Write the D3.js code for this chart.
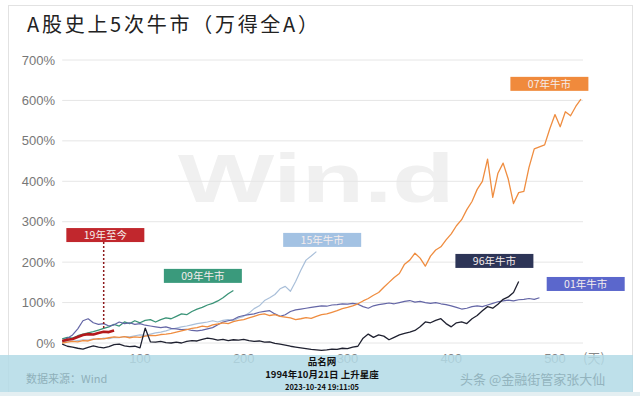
<!DOCTYPE html>
<html>
<head>
<meta charset="utf-8">
<script src="https://cdn.jsdelivr.net/npm/d3@7"></script>
<style>
  html, body { margin: 0; padding: 0; background: #fff; }
  svg { display: block; }
</style>
</head>
<body>
<svg id="chart" width="640" height="396"></svg>
<script>
// 数据 ------------------------------------------------------------
// 每条线从第25天开始, 每隔5天一个点 (单位: %)
const startDay = 25;
const stepDay = 5;

const bull07 = [0,2,4,3,6,5,9,11,10,13,15,14,16,13,15,14,17,19,18,21,
  22,24,27,30,33,36,38,42,40,45,47,50,48,53,56,58,62,66,70,72,
  68,70,66,64,62,58,60,63,61,66,70,72,76,80,85,88,92,97,104,110,
  118,125,138,150,162,172,195,205,222,210,190,215,230,238,255,270,290,305,330,350,
  380,400,455,360,420,445,405,345,372,375,435,480,485,490,530,565,535,572,562,585,603];

const bull01 = [5,12,20,35,55,60,50,46,48,42,45,52,48,50,46,48,44,42,40,38,
  40,36,35,33,34,31,30,32,35,38,45,52,55,58,65,68,70,72,76,78,
  80,72,66,70,78,82,84,86,88,90,92,91,94,95,97,96,98,96,90,86,
  92,95,97,99,97,100,103,105,101,103,100,98,100,97,95,92,88,84,86,90,
  92,90,94,98,102,104,106,104,107,108,110,108,112];

const bull96 = [-3,-8,-10,-13,-15,-11,-7,-10,-12,-9,-4,-3,-7,-9,-8,-12,37,3,2,4,
  1,0,2,0,4,6,5,9,12,10,7,9,6,8,7,9,6,4,5,2,
  3,-1,-3,-5,-8,-10,-12,-14,-16,-17,-18,-17,-15,-16,-13,-14,-10,-8,12,22,
  14,20,17,8,14,20,24,27,31,40,52,50,56,60,48,40,50,52,48,60,
  68,80,90,86,96,108,114,125,152];

const bull15 = [3,5,4,6,8,7,10,9,12,11,14,13,16,15,18,20,19,22,25,27,
  30,34,37,40,42,45,48,50,52,55,52,56,58,55,62,66,74,85,92,105,
  112,120,134,140,128,152,180,205,215,226];

const bull09 = [10,14,12,18,22,25,28,32,36,40,46,42,52,48,55,50,56,58,52,58,
  62,60,66,72,70,78,84,88,94,98,104,112,122,130];

const bull19 = [5,8,10,15,20,22,21,25,28,27,31];

const seriesNames = ["15年牛市", "09年牛市", "01年牛市", "07年牛市", "96年牛市", "19年至今"];
const seriesValues = [bull15, bull09, bull01, bull07, bull96, bull19];
const lineColors = ["#a9bfd9", "#3b9478", "#6466a6", "#ef8d40", "#1f2130", "#b3191c"];
const boxColors = ["#a3c2e3", "#3a9a7c", "#5b67cc", "#f08a3c", "#2d3557", "#c1272d"];
const lineWidths = [1.2, 1.3, 1.2, 1.3, 1.3, 2.6];
// 标签框左边 (天) 和中心 (%)
const boxDay = [238, 123, 492, 457, 404, 29];
const boxPct = [255, 166, 146, 641, 203, 267];

const yTicks = [0, 100, 200, 300, 400, 500, 600, 700];
const xTicks = [100, 200, 300, 400, 500];

const title = "A股史上5次牛市（万得全A）";

// 画图 ------------------------------------------------------------
const svg = d3.select("#chart");

const x = d3.scaleLinear().domain([0, 560]).range([36.25, 617.25]);
const y = d3.scaleLinear().domain([0, 700]).range([343, 60]);

// 外框
svg.append("rect")
  .attr("x", 8.5).attr("y", 5.5)
  .attr("width", 624).attr("height", 392)
  .attr("fill", "#fff")
  .attr("stroke", "#e2e2e2");

// 水印 Win.d
svg.append("text")
  .attr("transform", "translate(178,202) scale(1.5,1)")
  .attr("font-family", "Liberation Sans, Arial, sans-serif")
  .attr("font-weight", "bold")
  .attr("font-size", 68)
  .attr("fill", "#f0f0f0")
  .text("Win.d");

// 标题
svg.append("text")
  .attr("x", 27).attr("y", 32)
  .attr("font-family", "Noto Sans CJK SC, sans-serif")
  .attr("font-size", 20)
  .attr("textLength", 291)
  .attr("fill", "#222")
  .text(title);

// 网格线 + y轴
const grid = svg.append("g");
grid.selectAll("line")
  .data(yTicks)
  .join("line")
    .attr("x1", x(startDay)).attr("x2", x(527))
    .attr("y1", d => y(d)).attr("y2", d => y(d))
    .attr("stroke", "#e6e6e6")
    .attr("stroke-width", 1);

grid.selectAll("text")
  .data(yTicks)
  .join("text")
    .attr("x", 55)
    .attr("y", d => y(d))
    .attr("dy", "0.35em")
    .attr("text-anchor", "end")
    .attr("font-family", "Liberation Sans, Arial, sans-serif")
    .attr("font-size", 13)
    .attr("fill", "#777")
    .text(d => d + "%");

// 线
const line = d3.line()
  .x((d, i) => x(startDay + i * stepDay))
  .y(d => y(d));

svg.append("g")
  .selectAll("path")
  .data(seriesValues)
  .join("path")
    .attr("d", d => line(d))
    .attr("fill", "none")
    .attr("stroke", (d, i) => lineColors[i])
    .attr("stroke-width", (d, i) => lineWidths[i])
    .attr("stroke-linejoin", "round");

// 19年至今 虚线
const lastDay19 = startDay + (bull19.length - 3) * stepDay;
svg.append("line")
  .attr("x1", x(lastDay19)).attr("x2", x(lastDay19))
  .attr("y1", y(boxPct[5]) + 7).attr("y2", y(bull19[bull19.length - 3]) - 2)
  .attr("stroke", "#8e1a1d")
  .attr("stroke-width", 1.5)
  .attr("stroke-dasharray", "2,2");

// 标签框
const boxes = svg.append("g")
  .selectAll("g")
  .data(seriesNames)
  .join("g")
    .attr("transform", (d, i) => `translate(${x(boxDay[i])},${y(boxPct[i])})`);

boxes.append("rect")
  .attr("x", 0).attr("y", -7)
  .attr("width", 78).attr("height", 14)
  .attr("fill", (d, i) => boxColors[i]);

boxes.append("text")
  .attr("x", 39).attr("y", 0)
  .attr("dy", "0.36em")
  .attr("text-anchor", "middle")
  .attr("font-family", "Noto Sans CJK SC, sans-serif")
  .attr("font-size", 10.5)
  .attr("fill", "#f4ecec")
  .text(d => d);

// x轴标签
const xl = svg.append("g");
xl.selectAll("text")
  .data(xTicks)
  .join("text")
    .attr("x", d => x(d))
    .attr("y", 363)
    .attr("text-anchor", "middle")
    .attr("font-family", "Liberation Sans, Arial, sans-serif")
    .attr("font-size", 13)
    .attr("fill", "#888")
    .text(d => d);
xl.append("text")
  .attr("x", 594).attr("y", 363)
  .attr("text-anchor", "middle")
  .attr("font-family", "Noto Sans CJK SC, sans-serif")
  .attr("font-size", 13)
  .attr("fill", "#888")
  .text("(天)");

// 底部蓝色条
svg.append("rect")
  .attr("x", 0).attr("y", 355)
  .attr("width", 633).attr("height", 37)
  .attr("fill", "#b3dbe6")
  .attr("opacity", 0.85);
svg.append("rect")
  .attr("x", 0).attr("y", 392)
  .attr("width", 640).attr("height", 4)
  .attr("fill", "#e4eff2");

svg.append("text")
  .attr("x", 26).attr("y", 383)
  .attr("font-family", "Noto Sans CJK SC, sans-serif")
  .attr("font-size", 11)
  .attr("fill", "#8fb0ba")
  .text("数据来源：Wind");

svg.append("text")
  .attr("x", 460).attr("y", 384)
  .attr("font-family", "Noto Sans CJK SC, sans-serif")
  .attr("font-size", 13)
  .attr("fill", "#93b4be")
  .text("头条 @金融街管家张大仙");

// 水印文字
const wm = ["品名网", "1994年10月21日 上升星座", "2023-10-24 19:11:05"];
const wmSize = [9.5, 9.5, 7.5];
const wmY = [365, 378, 390];
svg.append("g")
  .selectAll("text")
  .data(wm)
  .join("text")
    .attr("x", 322)
    .attr("y", (d, i) => wmY[i])
    .attr("text-anchor", "middle")
    .attr("font-family", "Noto Sans CJK SC, serif")
    .attr("font-weight", "bold")
    .attr("font-size", (d, i) => wmSize[i])
    .attr("fill", "#111")
    .text(d => d);
</script>
</body>
</html>
